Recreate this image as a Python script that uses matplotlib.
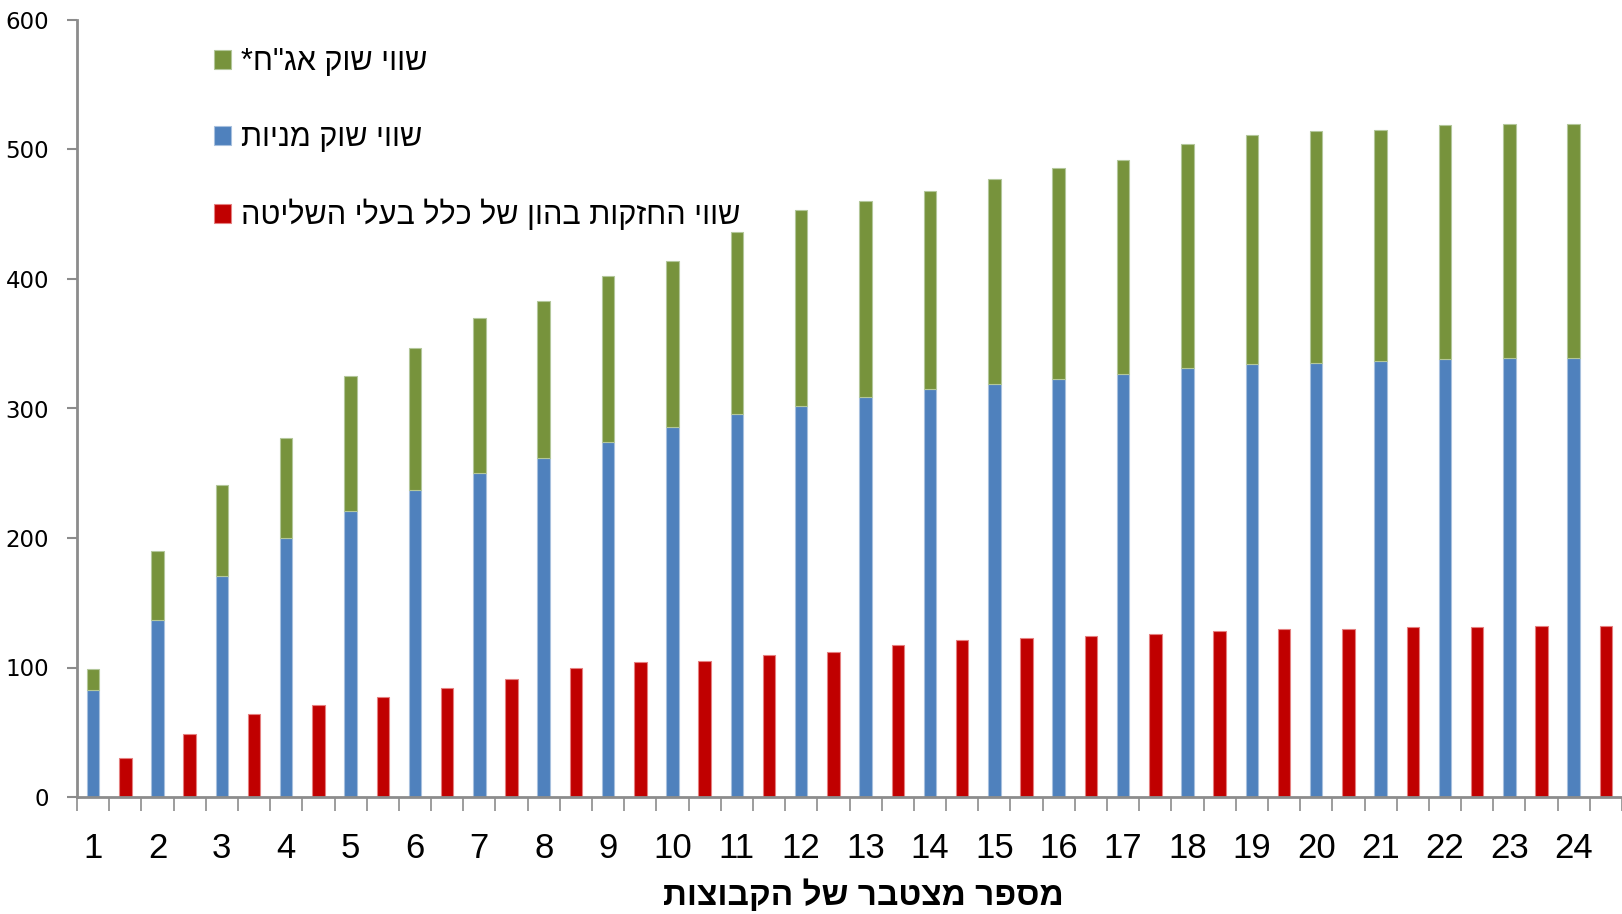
import matplotlib
matplotlib.use('Agg')
import matplotlib.pyplot as plt
import numpy as np

plt.rcParams['font.family'] = ['Liberation Sans', 'DejaVu Sans']

groups = list(range(1, 25))
# שווי שוק מניות
stocks = [83, 137, 171, 200, 221, 237, 250, 262, 274, 286, 296, 302,
          309, 315, 319, 323, 327, 331, 334, 335, 337, 338, 339, 339]
# סה"כ (מניות + אג"ח)
totals = [99, 190, 241, 277, 325, 347, 370, 383, 402, 414, 436, 453,
          460, 468, 477, 486, 492, 504, 511, 514, 515, 519, 520, 520]
bonds = [t - s for t, s in zip(totals, stocks)]
# שווי החזקות בהון של כלל בעלי השליטה
control = [30, 49, 64, 71, 77, 84, 91, 100, 104, 105, 110, 112,
           117, 121, 123, 124, 126, 128, 130, 130, 131, 131, 132, 132]

lbl_bonds = 'שווי שוק אג"ח*'
lbl_stocks = 'שווי שוק מניות'
lbl_control = 'שווי החזקות בהון של כלל בעלי השליטה'
xtitle = 'מספר מצטבר של הקבוצות'


def heb(s):
    # matplotlib אינו תומך בכיווניות מימין לשמאל
    return s[::-1]


fig = plt.figure(figsize=(16.22, 9.14), dpi=100)
ax = fig.add_axes([77 / 1622, 1 - 797 / 914, 1 - 77 / 1622, (797 - 20) / 914])

x = np.arange(len(groups))
pos_stack = 2 * x
pos_red = 2 * x + 1
w = 0.39

b1 = ax.bar(pos_stack, stocks, w, color='#4F81BD', edgecolor='#A7C0DE', linewidth=0.8)
b2 = ax.bar(pos_stack, bonds, w, bottom=stocks, color='#77933C', edgecolor='#B3C79A', linewidth=0.8)
b3 = ax.bar(pos_red, control, w, color='#C00000', edgecolor='#E58080', linewidth=0.8)

ax.set_xlim(-0.5, 2 * len(groups) - 0.5)
ax.set_ylim(0, 600)
ax.set_yticks(range(0, 601, 100))
ax.set_xticks(pos_stack)
ax.set_xticklabels([str(g) for g in groups], fontsize=25)
ax.set_xticks(np.arange(-0.5, 2 * len(groups)), minor=True)
ax.tick_params(axis='x', which='major', length=0, pad=25)
ax.tick_params(axis='x', which='minor', length=10, width=1.2, color='#8C8C8C')
ax.tick_params(axis='y', labelsize=16.5, length=7, width=1.5, color='#8C8C8C', pad=13)
for t in ax.get_yticklabels():
    t.set_family('DejaVu Sans')

for side in ['top', 'right']:
    ax.spines[side].set_visible(False)
for side in ['left', 'bottom']:
    ax.spines[side].set_color('#8C8C8C')
    ax.spines[side].set_linewidth(2)

ax.legend([b2, b1, b3], [heb(lbl_bonds), heb(lbl_stocks), heb(lbl_control)],
          loc='upper left', bbox_to_anchor=(214 / 1622, 1 - 47 / 914),
          bbox_transform=fig.transFigure, frameon=False, fontsize=22,
          handlelength=0.57, handleheight=0.57, handletextpad=0.3,
          labelspacing=1.52, borderpad=0, borderaxespad=0)

fig.text(863 / 1622, 1 - 896 / 914, heb(xtitle), fontsize=24, fontweight='bold',
         ha='center', va='center')

fig.savefig('out.png', dpi=100)
